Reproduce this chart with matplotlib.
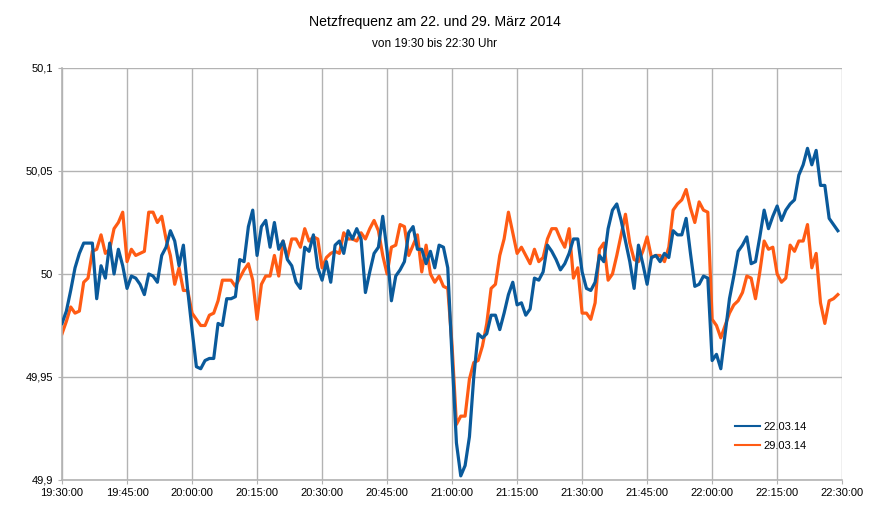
import matplotlib
matplotlib.use("Agg")
import matplotlib.pyplot as plt
import numpy as np

plt.rcParams['font.family'] = ['Liberation Sans', 'DejaVu Sans']

# minutes after 19:30, one value per minute
minutes = np.arange(180)

f_22 = [
    49.976, 49.982, 49.992, 50.003, 50.010, 50.015, 50.015, 50.015, 49.988, 50.004,
    49.998, 50.015, 50.000, 50.012, 50.004, 49.993, 49.999, 49.998, 49.995, 49.990,
    50.000, 49.999, 49.996, 50.009, 50.013, 50.021, 50.016, 50.004, 50.014, 49.992,
    49.973, 49.955, 49.954, 49.958, 49.959, 49.959, 49.976, 49.975, 49.988, 49.988,
    49.989, 50.007, 50.006, 50.023, 50.031, 50.009, 50.023, 50.026, 50.013, 50.025,
    50.012, 50.016, 50.007, 50.004, 49.996, 49.993, 50.013, 50.011, 50.019, 50.003,
    49.997, 50.006, 49.996, 50.014, 50.016, 50.010, 50.021, 50.017, 50.022, 50.017,
    49.991, 50.001, 50.010, 50.013, 50.028, 50.011, 49.987, 49.999, 50.002, 50.006,
    50.020, 50.023, 50.012, 50.012, 50.005, 50.011, 50.003, 50.014, 50.013, 50.003,
    49.959, 49.918, 49.902, 49.907, 49.921, 49.950, 49.971, 49.969, 49.971, 49.980,
    49.980, 49.973, 49.981, 49.990, 49.996, 49.985, 49.986, 49.980, 49.983, 49.998,
    49.997, 50.001, 50.014, 50.011, 50.007, 50.002, 50.005, 50.010, 50.017, 50.017,
    50.001, 49.993, 49.992, 49.996, 50.009, 50.006, 50.022, 50.031, 50.034, 50.026,
    50.016, 50.006, 49.993, 50.014, 50.005, 49.995, 50.008, 50.009, 50.006, 50.010,
    50.008, 50.021, 50.019, 50.019, 50.027, 50.010, 49.994, 49.995, 49.999, 49.998,
    49.958, 49.961, 49.954, 49.971, 49.988, 49.999, 50.011, 50.014, 50.018, 50.005,
    50.006, 50.018, 50.031, 50.022, 50.028, 50.033, 50.026, 50.031, 50.034, 50.036,
    50.048, 50.053, 50.061, 50.053, 50.060, 50.043, 50.043, 50.027, 50.024, 50.021,
]

f_29 = [
    49.971, 49.977, 49.984, 49.981, 49.982, 49.996, 49.998, 50.011, 50.012, 50.019,
    50.010, 50.012, 50.022, 50.025, 50.030, 50.006, 50.012, 50.009, 50.010, 50.011,
    50.030, 50.030, 50.025, 50.028, 50.017, 50.009, 49.995, 50.003, 49.992, 49.992,
    49.981, 49.978, 49.975, 49.975, 49.980, 49.981, 49.987, 49.997, 49.997, 49.997,
    49.994, 49.998, 50.002, 50.005, 49.997, 49.978, 49.995, 49.999, 49.999, 50.009,
    49.999, 50.016, 50.008, 50.017, 50.017, 50.013, 50.022, 50.016, 50.018, 50.017,
    50.003, 50.008, 50.010, 50.011, 50.010, 50.020, 50.017, 50.017, 50.016, 50.020,
    50.017, 50.022, 50.026, 50.021, 50.009, 50.000, 50.013, 50.014, 50.024, 50.023,
    50.009, 50.014, 50.019, 50.001, 50.014, 50.000, 49.996, 49.999, 49.994, 49.993,
    49.965, 49.927, 49.931, 49.931, 49.949, 49.957, 49.958, 49.965, 49.976, 49.993,
    49.995, 50.009, 50.017, 50.030, 50.020, 50.010, 50.013, 50.009, 50.005, 50.012,
    50.006, 50.008, 50.017, 50.022, 50.022, 50.017, 50.013, 50.022, 49.998, 50.003,
    49.981, 49.981, 49.978, 49.986, 50.012, 50.015, 49.997, 50.000, 50.009, 50.019,
    50.029, 50.015, 50.007, 50.006, 50.011, 50.018, 50.008, 50.009, 50.009, 50.006,
    50.013, 50.031, 50.034, 50.036, 50.041, 50.032, 50.025, 50.035, 50.031, 50.030,
    49.978, 49.975, 49.969, 49.975, 49.981, 49.985, 49.987, 49.991, 49.999, 49.998,
    49.988, 50.001, 50.016, 50.012, 50.013, 50.000, 49.996, 49.998, 50.014, 50.011,
    50.016, 50.016, 50.024, 50.003, 50.010, 49.986, 49.976, 49.987, 49.988, 49.990,
]

tick_pos = np.arange(0, 181, 15)
tick_labels = ['19:30:00', '19:45:00', '20:00:00', '20:15:00', '20:30:00', '20:45:00',
               '21:00:00', '21:15:00', '21:30:00', '21:45:00', '22:00:00', '22:15:00',
               '22:30:00']
y_ticks = [49.9, 49.95, 50.0, 50.05, 50.1]
y_labels = ['49,9', '49,95', '50', '50,05', '50,1']

fig = plt.figure(figsize=(8.7, 5.21), dpi=100)
ax = fig.add_axes([0.0713, 0.0787, 0.8967, 0.7908])

ax.plot(minutes, f_22, color='#0a5a9b', lw=2.3, label='22.03.14', zorder=3)
ax.plot(minutes, f_29, color='#ff5b14', lw=2.3, label='29.03.14', zorder=2)

ax.set_xlim(0, 180)
ax.set_ylim(49.9, 50.1)
ax.set_xticks(tick_pos)
ax.set_xticklabels(tick_labels)
ax.set_yticks(y_ticks)
ax.set_yticklabels(y_labels)

ax.grid(True, color='#b3b3b3', lw=1)
ax.set_axisbelow(True)
for s in ['top', 'right']:
    ax.spines[s].set_visible(False)
for s in ['left', 'bottom']:
    ax.spines[s].set_color('#b3b3b3')
    ax.spines[s].set_linewidth(1.2)
ax.tick_params(axis='both', colors='#b3b3b3', labelcolor='black', labelsize=8, length=3)
ax.tick_params(axis='x', pad=3)

leg = ax.legend(loc='lower right', bbox_to_anchor=(0.967, 0.046), frameon=False,
                fontsize=8, handlelength=2.2, handletextpad=0.3, labelspacing=0.85)
for ln in leg.get_lines():
    ln.set_linewidth(1.5)

fig.text(0.5, 0.958, 'Netzfrequenz am 22. und 29. März 2014', ha='center', va='center',
         fontsize=10.1)
fig.text(0.5, 0.915, 'von 19:30 bis 22:30 Uhr', ha='center', va='center', fontsize=8.5)

fig.savefig('out.png', dpi=100)
